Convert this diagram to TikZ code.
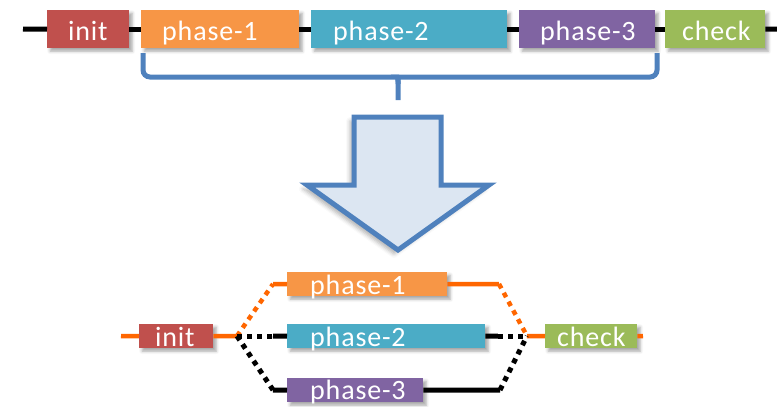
\documentclass[tikz,border=0pt]{standalone}
\usepackage{fontspec}
\setmainfont{Carlito}[LetterSpace=3]
\usetikzlibrary{shadows.blur}
\definecolor{cinit}{HTML}{C0504D}
\definecolor{cpa}{HTML}{F79646}
\definecolor{cpb}{HTML}{4BACC6}
\definecolor{cpc}{HTML}{8064A2}
\definecolor{cchk}{HTML}{9BBB59}
\definecolor{cblue}{HTML}{4F81BD}
\definecolor{cfill}{HTML}{DCE6F2}
\definecolor{corange}{HTML}{FF6600}
\tikzset{
  pbox/.style n args={3}{fill=#1, text=white, anchor=north west, inner ysep=0pt,
    text width=#2, inner xsep=#3, align=left,
    font=\fontsize{28}{30}\selectfont,
    blur shadow={shadow xshift=3pt, shadow yshift=-3pt, shadow blur radius=3pt, shadow opacity=35}},
  tbox/.style n args={3}{pbox={#1}{#2}{#3}, text height=30pt, text depth=8pt},
  bbox/.style n args={3}{pbox={#1}{#2}{#3}, text height=22pt, text depth=2pt},
  blk/.style={draw=black, line width=5pt},
  org/.style={draw=corange, line width=4.5pt},
  dots/.style={dash pattern=on 5pt off 5pt},
}
\begin{document}
\begin{tikzpicture}[x=1pt,y=-1pt]
\useasboundingbox (0,0) rectangle (777,407);

% ---------- top row ----------
\node[tbox={cinit}{40pt}{21pt}] (ti) at (47,10) {\mbox{init}};
\node[tbox={cpa}{116pt}{21pt}] (t1) at (141,10) {\mbox{phase-1}};
\node[tbox={cpb}{152pt}{22pt}] (t2) at (311,10) {\mbox{phase-2}};
\node[tbox={cpc}{94pt}{21pt}] (t3) at (519,10) {\mbox{phase-3}};
\node[tbox={cchk}{66pt}{17pt}] (tc) at (665,10) {\mbox{check}};
\coordinate (tl) at (23,29);
\coordinate (tr) at (777,29);
\draw[blk] (tl) -- (ti.west);
\draw[blk] (ti.east) -- (t1.west);
\draw[blk] (t1.east) -- (t2.west);
\draw[blk] (t2.east) -- (t3.west);
\draw[blk] (t3.east) -- (tc.west);
\draw[blk] (tc.east) -- (tr);

% ---------- brace ----------
\draw[cblue, line width=5pt, rounded corners=7pt]
  (143,53) -- (143,77) -- (392,77) .. controls (398,77) .. (398,84) -- (398,100);
\draw[cblue, line width=5pt, rounded corners=7pt]
  (657,53) -- (657,77) -- (404,77) .. controls (398,77) .. (398,84);

% ---------- big arrow ----------
\draw[cblue, fill=cfill, line width=5pt, miter limit=10,
      blur shadow={shadow xshift=-4pt, shadow yshift=-4pt, shadow blur radius=4pt, shadow opacity=30}]
  (354,117) -- (441,117) -- (441,185) -- (489,185) -- (398,250) -- (307,185) -- (354,185) -- cycle;

% ---------- bottom ----------
\node[bbox={cinit}{42pt}{16pt}] (bi) at (139,324) {\mbox{init}};
\node[bbox={cpa}{114pt}{23pt}] (b1) at (287,272) {\mbox{phase-1}};
\node[bbox={cpb}{152pt}{23pt}] (b2) at (287,324) {\mbox{phase-2}};
\node[bbox={cpc}{90pt}{23pt}, text height=21pt, text depth=3pt] (b3) at (287,378) {\mbox{phase-3}};
\node[bbox={cchk}{68pt}{12pt}] (bc) at (545,324) {\mbox{check}};

\coordinate (bl) at (121,336);
\coordinate (br) at (643,336);
\coordinate (j1) at (237,336);
\coordinate (j2) at (527,336);
\coordinate (a1) at (273,284);
\coordinate (a2) at (499,284);
\coordinate (m1) at (273,336);
\coordinate (m2) at (498,336);
\coordinate (c1) at (273,390);
\coordinate (c2) at (500,390);

% orange path through phase-1
\draw[org] (bl) -- (bi.west);
\draw[org] (bi.east) -- (j1);
\draw[org, dots] (j1) -- (a1);
\draw[org] (a1) -- (b1.west);
\draw[org] (b1.east) -- (a2);
\draw[org, dots] (a2) -- (j2);
\draw[org] (j2) -- (bc.west);
\draw[org] (bc.east) -- (br);

% black paths
\draw[blk, dots] (j1) -- (m1);
\draw[blk] (m1) -- (b2.west);
\draw[blk] (b2.east) -- (m2);
\draw[blk, dots] (m2) -- (j2);
\draw[blk, dots] (j1) -- (c1);
\draw[blk] (c1) -- (b3.west);
\draw[blk] (b3.east) -- (c2);
\draw[blk, dots] (c2) -- (j2);
\end{tikzpicture}
\end{document}
